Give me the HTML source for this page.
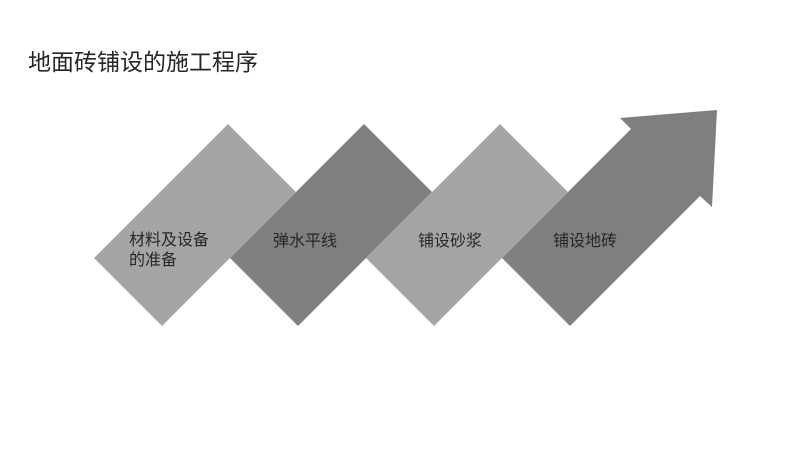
<!DOCTYPE html>
<html><head><meta charset="utf-8"><style>
html,body{margin:0;padding:0;background:#fff;width:800px;height:450px;overflow:hidden}
svg{display:block}
text{font-family:"Liberation Sans","Noto Sans CJK SC",sans-serif}
</style></head><body>
<svg width="800" height="450" viewBox="0 0 800 450">
<text x="28" y="70" font-size="23" fill="#262626">地面砖铺设的施工程序</text>
<polygon points="94,258 228,124 296,192 162,326" fill="#a5a5a5"/>
<polygon points="230,258 364,124 432,192 298,326" fill="#7f7f7f"/>
<polygon points="366,258 500,124 568,192 434,326" fill="#a5a5a5"/>
<polygon points="502,258 631,129 620,118 717,110 712,207 700,196 570,326" fill="#7f7f7f"/>
<g font-size="16" fill="#262626">
<text x="129" y="245">材料及设备</text>
<text x="129" y="265">的准备</text>
<text x="273" y="246">弹水平线</text>
<text x="418" y="246">铺设砂浆</text>
<text x="553" y="246">铺设地砖</text>
</g>
</svg>
</body></html>
